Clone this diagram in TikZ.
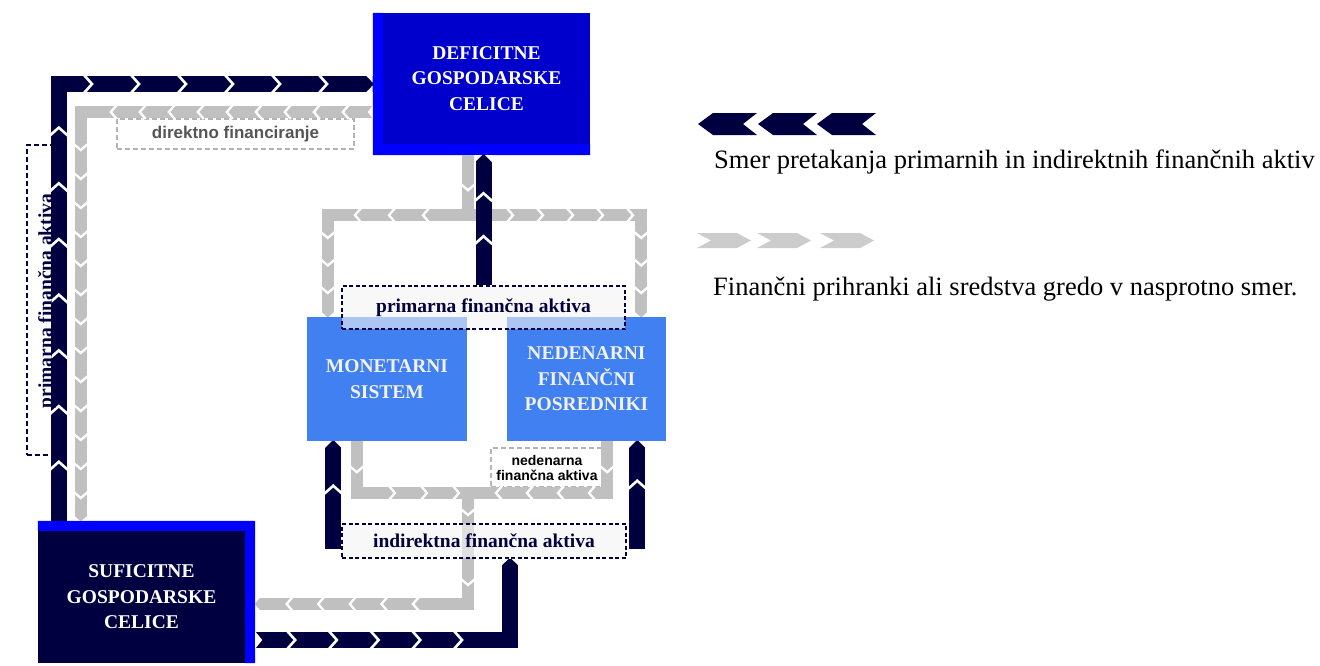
\documentclass[tikz,border=0pt]{standalone}
\usepackage{fontspec}
\setmainfont{Liberation Serif}
\newfontfamily\labelsans{Liberation Sans}
\usetikzlibrary{decorations.markings,calc}
\definecolor{navyflow}{RGB}{0,0,64}
\definecolor{deffill}{RGB}{0,0,204}
\definecolor{rimblue}{RGB}{0,0,255}
\definecolor{midblue}{RGB}{64,128,240}
\definecolor{flowgrey}{RGB}{192,192,192}
\definecolor{keygrey}{RGB}{204,204,204}
\definecolor{dashgrey}{RGB}{180,180,180}
\definecolor{boxwhite}{RGB}{242,242,242}
\definecolor{labelfill}{RGB}{244,244,244}
\definecolor{captiongrey}{RGB}{85,85,85}
\begin{document}
\begin{tikzpicture}[x=1pt,y=-1pt,
  boxtext/.style={text=white, font=\bfseries\fontsize{19.5}{25.5}\selectfont, align=center, inner sep=0pt},
  sector/.style={fill=midblue, text=boxwhite, font=\bfseries\fontsize{19.5}{25.5}\selectfont, align=center, inner sep=0pt},
  lbox/.style={draw=navyflow, dash pattern=on 4pt off 2.5pt, line width=1.5pt, fill=labelfill, fill opacity=0.6, text opacity=1, text=navyflow, font=\bfseries\fontsize{19.5}{22}\selectfont, inner sep=0pt},
  gbox/.style={draw=dashgrey, dash pattern=on 5pt off 3pt, line width=1.5pt, fill=white, inner sep=0pt},
  nband/.style={draw=navyflow, line width=16pt, line join=miter},
  gband/.style={draw=flowgrey, line width=12pt, line join=miter},
  ngaps/.style n args={3}{postaction={decorate, decoration={markings, mark=between positions #1 and #2 step #3 with {\draw[white, line width=2.6pt] (-8,-9) -- (0,0) -- (-8,9);}}}},
  ggaps/.style n args={3}{postaction={decorate, decoration={markings, mark=between positions #1 and #2 step #3 with {\draw[white, line width=2.3pt] (-6,-7) -- (0,0) -- (-6,7);}}}},
  ntip/.style={postaction={decorate, decoration={markings, mark=at position 0.9999 with {\fill[white] (-7,8.6) -- (0,8.6) -- (0,1.5) -- cycle; \fill[white] (-7,-8.6) -- (0,-8.6) -- (0,-1.5) -- cycle;}}}},
  gtip/.style={postaction={decorate, decoration={markings, mark=at position 0.9999 with {\fill[white] (-5,6.6) -- (0,6.6) -- (0,1) -- cycle; \fill[white] (-5,-6.6) -- (0,-6.6) -- (0,-1) -- cycle;}}}},
  nnotch/.style={postaction={decorate, decoration={markings, mark=at position 0.0001 with {\fill[white] (0,-8.6) -- (7,0) -- (0,8.6) -- cycle;}}}},
  gnotch/.style={postaction={decorate, decoration={markings, mark=at position 0.0001 with {\fill[white] (0,-6.6) -- (5,0) -- (0,6.6) -- cycle;}}}},
]
\useasboundingbox (0,0) rectangle (1320,665);

% caption boxes lying under the flows
\node[draw=navyflow, dash pattern=on 5pt off 3pt, line width=2pt, minimum width=35, minimum height=310, inner sep=0pt] (vpa) at (44.5,300) {};
\node[gbox, minimum width=237, minimum height=30, text=captiongrey, font=\labelsans\bfseries\fontsize{17}{20}\selectfont] (dfi) at (235.5,134) {direktno financiranje};
\node[gbox, minimum width=112, minimum height=39, align=center, font=\labelsans\bfseries\fontsize{14}{15}\selectfont] (nfa) at (547,467.5) {nedenarna\\finančna aktiva};

% intermediaries
\node[sector, minimum width=160, minimum height=124] (mon) at (387,379) {MONETARNI\\SISTEM};
\node[sector, minimum width=159, minimum height=124] (ned) at (586.5,379) {NEDENARNI\\FINANČNI\\POSREDNIKI};

% deficit units with bright rim on the left and bottom
\node[boxtext, fill=deffill, minimum width=207, minimum height=131] (def) at (486.5,78.5) {DEFICITNE\\GOSPODARSKE\\CELICE};
\fill[rimblue] ([xshift=-10pt]def.north west) -- (def.north west) -- (def.south west) -- (def.south east)
  -- ([yshift=-11pt]def.south east) -- ([xshift=-10pt,yshift=-11pt]def.south west) -- cycle;

% surplus units with bright rim on the top and right
\node[boxtext, fill=navyflow, minimum width=207, minimum height=132] (suf) at (141.5,597) {SUFICITNE\\GOSPODARSKE\\CELICE};
\fill[rimblue] ([yshift=10pt]suf.north west) -- ([xshift=10pt,yshift=10pt]suf.north east) -- ([xshift=10pt]suf.south east)
  -- (suf.south east) -- (suf.north east) -- (suf.north west) -- cycle;

% grey flows: savings moving opposite to the assets
\draw[gband, gnotch, ggaps={30pt}{263pt}{29pt}, ggaps={330pt}{680pt}{29pt}, gtip]
  ($(def.west)+(-10,33.5)$) -| ($(suf.north west)+(43,-10)$);
\draw[gband, ggaps={35pt}{36pt}{10pt}, ggaps={105pt}{175pt}{34pt}, ggaps={223pt}{285pt}{27.5pt}, gtip]
  ($(def.south)+(-18.5,11)$) -- ++(0,60) -| ($(mon.north west)+(21,0)$);
\draw[gband, ggaps={35pt}{36pt}{10pt}, ggaps={105pt}{226pt}{30pt}, ggaps={256pt}{315pt}{27.5pt}, gtip]
  ($(def.south)+(-18.5,11)$) -- ++(0,60) -| ($(ned.north east)+(-25,0)$);
\coordinate (j1) at (468,493);
\coordinate (j2) at (468,604);
\draw[gband, ggaps={31pt}{32pt}{10pt}, ggaps={90pt}{156pt}{32pt}, ggaps={185pt}{260pt}{70pt}, ggaps={329pt}{460pt}{31.6pt}, gtip]
  ($(mon.south west)+(50,0)$) |- (j1) -- (j2) -- ($(suf.east)+(10,7)$);
\draw[gband, ggaps={31pt}{32pt}{10pt}, ggaps={70pt}{165pt}{31pt}]
  ($(ned.south east)+(-59,0)$) |- (j1);

% asset captions
\node[lbox, minimum width=283, minimum height=43] (pfa) at (483.5,307.5) {primarna finančna aktiva};
\node[lbox, minimum width=284, minimum height=34] (ifa) at (484,541) {indirektna finančna aktiva};

% navy flows: primary and indirect financial assets
\draw[nband, ngaps={59pt}{394pt}{55.7pt}, ngaps={470pt}{706pt}{47pt}, ntip]
  ($(suf.north west)+(21,-10)$) |- ($(def.west)+(-10,5.5)$);
\draw[nband, ngaps={49pt}{93pt}{43pt}, ntip]
  (pfa.north) -- ($(pfa.north |- def.south)+(0,11)$);
\draw[nband, nnotch, ngaps={40pt}{210pt}{41.7pt}, ntip]
  ($(suf.east)+(10,43)$) -| ($(ifa.south)+(26,0)$);
\draw[nband, ngaps={63pt}{64pt}{10pt}, ntip]
  ($(ifa.south west)+(-8,-10)$) -- ($(ifa.south west |- mon.south)+(-8,0)$);
\draw[nband, ngaps={68pt}{69pt}{10pt}, ntip]
  ($(ifa.south east)+(10.5,-10)$) -- ($(ifa.south east |- ned.south)+(10.5,0)$);

\node[rotate=90, text=navyflow, font=\bfseries\fontsize{19.5}{22}\selectfont, inner sep=0pt] (vpt) at (47,301) {primarna finančna aktiva};

% key
\foreach \t in {698,758,817}
  \fill[navyflow] (\t,124) -- (\t+15,113) -- (\t+59,113) -- (\t+45,124) -- (\t+59,135) -- (\t+15,135) -- cycle;
\foreach \s in {697,757,820}
  \fill[keygrey] (\s,233) -- (\s+40,233) -- (\s+54,240.5) -- (\s+40,248) -- (\s,248) -- (\s+14,240.5) -- cycle;
\node[anchor=base west, inner sep=0pt, font=\fontsize{26.5}{30}\selectfont] (key1) at (714,168) {Smer pretakanja primarnih in indirektnih finančnih aktiv};
\node[anchor=base west, inner sep=0pt, font=\fontsize{26.5}{30}\selectfont] (key2) at (713,295) {Finančni prihranki ali sredstva gredo v nasprotno smer.};
\end{tikzpicture}
\end{document}
